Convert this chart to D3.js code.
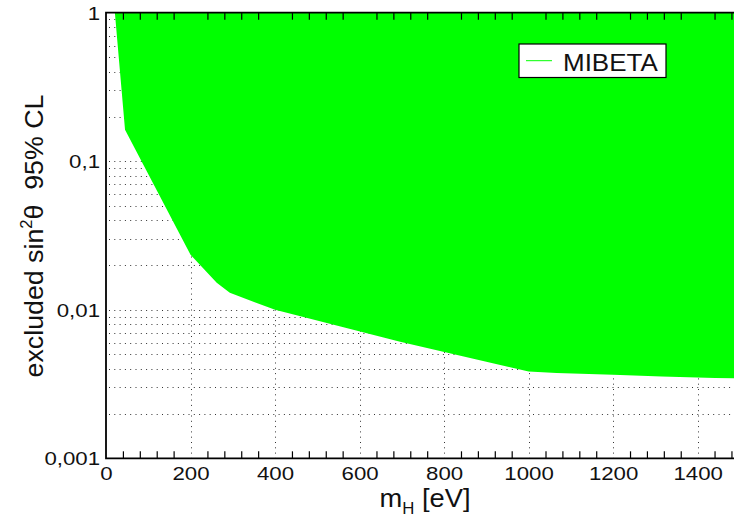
<!DOCTYPE html>
<html>
<head>
<meta charset="utf-8">
<script src="https://cdn.jsdelivr.net/npm/d3@7"></script>
<style>
  body { margin: 0; background: #fff; }
  svg { display: block; font-family: "Liberation Sans", Arial, sans-serif; }
</style>
</head>
<body>
<svg id="chart" width="734" height="519"></svg>
<script>
// exclusion limit (mass in eV, excluded sin^2 theta)
var massEV    = [21, 45, 200, 262, 293, 400, 696, 1000, 1066, 1200, 1315, 1441, 1500];
var sin2Limit = [1.0, 0.163, 0.0235, 0.0152, 0.0130, 0.0100, 0.0061, 0.00384, 0.00375, 0.00365, 0.00356, 0.00347, 0.00345];

var xTicks = [0, 200, 400, 600, 800, 1000, 1200, 1400];
var yTicks = [0.001, 0.01, 0.1, 1];
var yTickLabels = ["0,001", "0,01", "0,1", "1"];
var seriesName = "MIBETA";

var svg = d3.select("#chart");
var plotLeft = 106, plotTop = 12.7, plotBottom = 458.3;

var x = d3.scaleLinear().domain([0, 1500]).range([plotLeft, plotLeft + 1500 * 0.4226]);
var y = d3.scaleLog().domain([0.001, 1]).range([plotBottom, plotTop]);

// stretch text a bit horizontally like the original rendering
function stretch(sel, k) {
    sel.each(function() {
        var w = this.getComputedTextLength();
        d3.select(this).attr("textLength", w * k).attr("lengthAdjust", "spacingAndGlyphs");
    });
}

svg.append("clipPath").attr("id", "plotclip")
    .append("rect")
    .attr("x", plotLeft).attr("y", plotTop)
    .attr("width", x(1500) - plotLeft).attr("height", plotBottom - plotTop);

var plot = svg.append("g").attr("clip-path", "url(#plotclip)");

// grid: every log step on y, majors on x
var yGrid = [];
[0.001, 0.01, 0.1].forEach(function(d) {
    for (var i = 1; i < 10; i++) yGrid.push(d * i);
});
plot.append("g")
    .selectAll("line")
    .data(yGrid.filter(function(d) { return d > 0.001; }))
    .enter().append("line")
    .attr("x1", plotLeft + 3).attr("x2", x(1500))
    .attr("y1", function(d) { return Math.round(y(d)) + 0.5; })
    .attr("y2", function(d) { return Math.round(y(d)) + 0.5; })
    .attr("stroke", "#333").attr("stroke-width", 1)
    .attr("stroke-dasharray", "1,4.3");

plot.append("g")
    .selectAll("line")
    .data(xTicks.filter(function(d) { return d > 0; }))
    .enter().append("line")
    .attr("x1", function(d) { return Math.round(x(d)) + 0.5; })
    .attr("x2", function(d) { return Math.round(x(d)) + 0.5; })
    .attr("y1", plotTop).attr("y2", plotBottom)
    .attr("stroke", "#333").attr("stroke-width", 1)
    .attr("stroke-dasharray", "1,4.3");

// excluded region
var pts = massEV.map(function(m, i) { return {m: m, s: sin2Limit[i]}; });
var area = d3.area()
    .x(function(d) { return x(d.m); })
    .y0(y(1) - 5)
    .y1(function(d) { return y(d.s); });

plot.append("path")
    .datum(pts)
    .attr("d", area)
    .attr("fill", "#00ff00");

// minor ticks top and bottom
var minor = d3.range(40, 1500, 40).filter(function(d) { return d % 200 !== 0; });
svg.append("g")
    .attr("transform", "translate(0," + plotBottom + ")")
    .call(d3.axisTop(x).tickValues(minor).tickSize(7).tickFormat(""))
    .call(function(g) { g.select(".domain").remove(); g.selectAll("line").attr("stroke", "#000").attr("stroke-width", 1.2); });
svg.append("g")
    .attr("transform", "translate(0," + plotTop + ")")
    .call(d3.axisBottom(x).tickValues(minor).tickSize(7).tickFormat(""))
    .call(function(g) { g.select(".domain").remove(); g.selectAll("line").attr("stroke", "#000").attr("stroke-width", 1.2); });

// frame
svg.append("path")
    .attr("d", "M" + x(1500) + "," + plotTop + "H" + plotLeft + "V" + plotBottom + "H" + x(1500))
    .attr("fill", "none").attr("stroke", "#000").attr("stroke-width", 1.8);

// x labels
var xAxis = svg.append("g")
    .attr("transform", "translate(0," + plotBottom + ")")
    .call(d3.axisBottom(x).tickValues(xTicks).tickSize(0).tickPadding(0).tickFormat(d3.format("d")));
xAxis.select(".domain").remove();
xAxis.selectAll("text")
    .attr("dy", null).attr("y", 22)
    .attr("font-size", 19).attr("fill", "#111")
    .attr("font-family", "Liberation Sans, Arial, sans-serif")
    .call(stretch, 1.17);

// y labels
var yAxis = svg.append("g")
    .attr("transform", "translate(" + plotLeft + ",0)")
    .call(d3.axisLeft(y).tickValues(yTicks).tickSize(0).tickPadding(6)
        .tickFormat(function(d, i) { return yTickLabels[i]; }));
yAxis.select(".domain").remove();
yAxis.selectAll("text")
    .attr("dy", "0.35em")
    .attr("font-size", 19).attr("fill", "#111")
    .attr("font-family", "Liberation Sans, Arial, sans-serif")
    .call(stretch, 1.17);

// axis titles
var xt = svg.append("g").attr("transform", "translate(" + 425 + ",507) scale(1.05,1)")
    .append("text")
    .attr("text-anchor", "middle")
    .attr("font-size", 26).attr("fill", "#111");
xt.append("tspan").text("m");
xt.append("tspan").attr("font-size", 16).attr("dy", 7).text("H");
xt.append("tspan").attr("dy", -7).text(" [eV]");

var yt = svg.append("g").attr("transform", "translate(43,236) rotate(-90) scale(1.03,1)")
    .append("text")
    .attr("text-anchor", "middle")
    .attr("font-size", 26).attr("fill", "#111")
    .style("white-space", "pre");
yt.append("tspan").text("excluded sin");
yt.append("tspan").attr("font-size", 16).attr("dy", -11).text("2");
yt.append("tspan").attr("dy", 11).text("\u03b8  95% CL");

// legend
var leg = svg.append("g");
leg.append("rect")
    .attr("x", 519).attr("y", 44).attr("width", 147).attr("height", 33.5)
    .attr("fill", "#fff").attr("stroke", "#000").attr("stroke-width", 1.2);
leg.append("line")
    .attr("x1", 526).attr("x2", 552).attr("y1", 60.7).attr("y2", 60.7)
    .attr("stroke", "#00ff00").attr("stroke-width", 1);
leg.append("text")
    .attr("x", 563).attr("y", 71)
    .attr("font-size", 24.5).attr("fill", "#111")
    .text(seriesName)
    .call(stretch, 1.06);
</script>
</body>
</html>
